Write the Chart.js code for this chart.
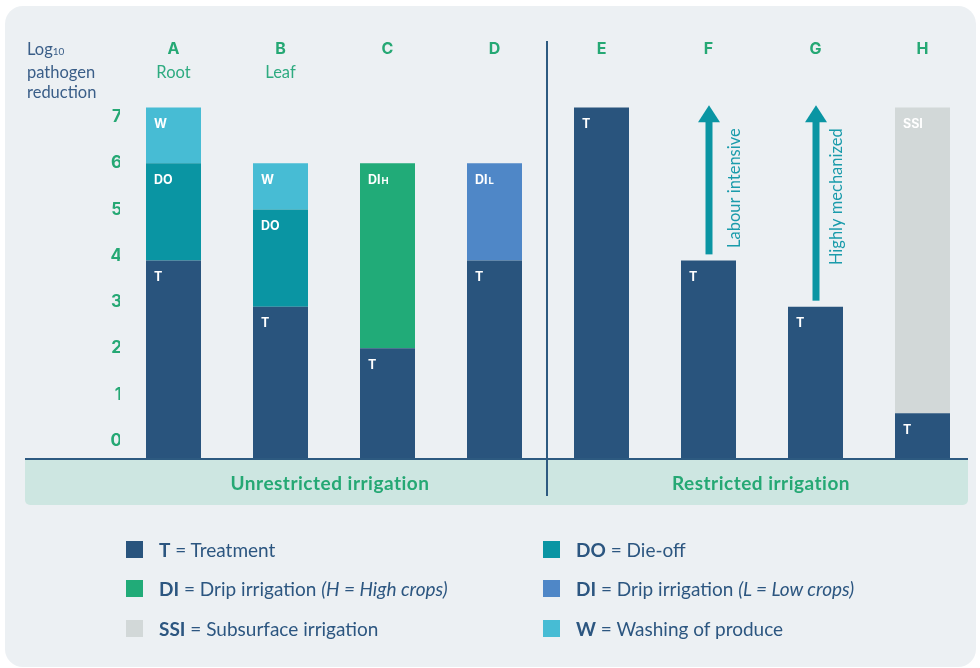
<!DOCTYPE html>
<html>
<head>
<meta charset="utf-8">
<script src="https://cdn.jsdelivr.net/npm/chart.js@4.4.1/dist/chart.umd.min.js"></script>
<style>
html, body { margin: 0; padding: 0; background: #fff; }
#wrap { position: relative; width: 980px; height: 668px; overflow: hidden; font-family: Lato, sans-serif; color: #2c5680; }
#panel { position: absolute; left: 5px; top: 6px; width: 971px; height: 661px; background: #ecf0f3; border-radius: 18px; }
#band { position: absolute; left: 25px; top: 460px; width: 943px; height: 45px; background: #cde6e1; border-radius: 0 0 5px 5px; }
#baseline { position: absolute; left: 25px; top: 458px; width: 943px; height: 2px; background: #2d5a80; }
#divider { position: absolute; left: 546px; top: 41px; width: 2px; height: 455px; background: #2d5a80; }
#chart { position: absolute; left: 0; top: 0; }
.band-label { position: absolute; top: 471px; font-weight: 700; font-size: 19px; letter-spacing: 0.5px; color: #25a874; transform: translateX(-50%); white-space: nowrap; }
#ytitle { position: absolute; left: 27px; top: 39px; font-size: 16.5px; line-height: 20.5px; color: #3a5e88; }
#ytitle sub { font-size: 10px; vertical-align: baseline; }
.leg { position: absolute; height: 17px; white-space: nowrap; font-size: 19px; line-height: 17px; }
.leg i.sw { position: absolute; left: 0; top: 0; width: 17px; height: 17px; }
.leg span { position: absolute; top: 0; }
.leg b { font-weight: 700; }
</style>
</head>
<body>
<div id="wrap">
  <div id="panel"></div>
  <div id="band"></div>
  <canvas id="chart" width="980" height="668"></canvas>
  <div id="baseline"></div>
  <div id="divider"></div>
  <div id="ytitle">Log<sub>10</sub><br>pathogen<br>reduction</div>
  <div class="band-label" style="left:330px">Unrestricted irrigation</div>
  <div class="band-label" style="left:761px">Restricted irrigation</div>
  <div id="legend"></div>
</div>
<script>
'use strict';

// categories and sub labels (top axis)
const categories = ['A', 'B', 'C', 'D', 'E', 'F', 'G', 'H'];
const cropLabels = ['Root', 'Leaf', '', '', '', '', '', ''];

// log10 reduction per measure (stacked)
const treatment = [3.9, 2.9, 2.0, 3.9, 7.2, 3.9, 2.9, 0.6];
const dieOff = [2.1, 2.1, null, null, null, null, null, null];
const dripHigh = [null, null, 4.0, null, null, null, null, null];
const dripLow = [null, null, null, 2.1, null, null, null, null];
const subsurface = [null, null, null, null, null, null, null, 6.6];
const washing = [1.2, 1.0, null, null, null, null, null, null];

const yTicks = [0, 1, 2, 3, 4, 5, 6, 7];
const arrowText = [null, null, null, null, null, 'Labour intensive', 'Highly mechanized', null];
const arrowTop = 7.25;

const GREEN = '#25a874';
const colors = {
  T: '#29547d',
  DO: '#0a95a3',
  DIH: '#21ab78',
  DIL: '#4f87c7',
  SSI: '#d2d8d8',
  W: '#47bcd4',
};

Chart.defaults.font.family = 'Inter, sans-serif';

function makeSet(label, data, color, tag, extra) {
  return Object.assign({
    label: label,
    data: data,
    backgroundColor: color,
    tag: tag,
    barPercentage: 0.514,
    categoryPercentage: 1,
  }, extra || {});
}

const barTags = {
  id: 'barTags',
  afterDatasetsDraw(chart) {
    const ctx = chart.ctx;
    ctx.save();
    ctx.fillStyle = '#ffffff';
    ctx.textBaseline = 'middle';
    ctx.textAlign = 'left';
    chart.data.datasets.forEach((ds, di) => {
      const meta = chart.getDatasetMeta(di);
      meta.data.forEach((el, i) => {
        if (ds.data[i] == null) return;
        let x = el.x - el.width / 2 + 8;
        let y = el.y + 17;
        ctx.font = '700 12.5px Inter, sans-serif';
        ctx.fillText(ds.tag[0], x, y);
        if (ds.tag[1]) {
          x += ctx.measureText(ds.tag[0]).width + 1;
          ctx.font = '700 9.5px Inter, sans-serif';
          ctx.fillText(ds.tag[1], x, y + 1);
        }
      });
    });
    ctx.restore();
  }
};

const arrows = {
  id: 'arrows',
  afterDatasetsDraw(chart) {
    const ctx = chart.ctx;
    const meta = chart.getDatasetMeta(0);
    const yScale = chart.scales.y;
    const gaps = {5: 31, 6: 26};
    ctx.save();
    arrowText.forEach((txt, i) => {
      if (!txt) return;
      const bar = meta.data[i];
      const x = Math.round(bar.x);
      const bottom = bar.y - 6;
      const tip = yScale.getPixelForValue(arrowTop);
      ctx.fillStyle = '#0a95a3';
      ctx.fillRect(x - 3.5, tip + 16, 7, bottom - tip - 16);
      ctx.beginPath();
      ctx.moveTo(x, tip);
      ctx.lineTo(x + 11, tip + 17);
      ctx.lineTo(x - 11, tip + 17);
      ctx.closePath();
      ctx.fill();
      ctx.translate(x + (gaps[i] || 28), tip + 23);
      ctx.rotate(-Math.PI / 2);
      ctx.fillStyle = '#1a9bab';
      ctx.font = '16.5px Lato, sans-serif';
      ctx.textAlign = 'right';
      ctx.textBaseline = 'alphabetic';
      ctx.fillText(txt, 0, 0);
      ctx.setTransform(1, 0, 0, 1, 0, 0);
    });
    ctx.restore();
  }
};

new Chart(document.getElementById('chart'), {
  type: 'bar',
  data: {
    labels: categories,
    datasets: [
      makeSet('T', treatment, colors.T, ['T', ''], {base: -0.39}),
      makeSet('DO', dieOff, colors.DO, ['DO', '']),
      makeSet('DIH', dripHigh, colors.DIH, ['DI', 'H']),
      makeSet('DIL', dripLow, colors.DIL, ['DI', 'L']),
      makeSet('SSI', subsurface, colors.SSI, ['SSI', '']),
      makeSet('W', washing, colors.W, ['W', '']),
    ],
  },
  options: {
    responsive: false,
    animation: false,
    layout: { padding: { left: 80, top: 35, right: 4, bottom: 209 } },
    plugins: { legend: { display: false }, tooltip: { enabled: false } },
    scales: {
      x: {
        position: 'top',
        stacked: true,
        weight: 1,
        grid: { display: false, drawTicks: false },
        border: { display: false },
        ticks: { color: GREEN, font: { size: 16, weight: '700' }, padding: 6 },
        afterFit(s) { s.height = 30; },
      },
      x2: {
        position: 'top',
        type: 'category',
        labels: cropLabels,
        weight: 0,
        grid: { display: false, drawTicks: false },
        border: { display: false },
        ticks: { color: '#2eab80', font: { family: 'Lato, sans-serif', size: 16.5 }, padding: 7 },
        afterFit(s) { s.height = 25; },
      },
      y: {
        stacked: true,
        min: -0.39,
        max: 7.58,
        grid: { display: false, drawTicks: false },
        border: { display: false },
        afterBuildTicks(s) { s.ticks = yTicks.map(v => ({ value: v })); },
        ticks: { color: GREEN, font: { size: 17, weight: '700' }, padding: -2 },
        afterFit(s) { s.width = 40; },
      },
    },
  },
  plugins: [barTags, arrows],
});

// legend
const legendRows = [
  { key: 'T', text: ' = Treatment', note: '', color: colors.T, x: 126, y: 541 },
  { key: 'DI', text: ' = Drip irrigation ', note: '(H = High crops)', color: colors.DIH, x: 126, y: 580 },
  { key: 'SSI', text: ' = Subsurface irrigation', note: '', color: colors.SSI, x: 126, y: 620 },
  { key: 'DO', text: ' = Die-off', note: '', color: colors.DO, x: 543, y: 541 },
  { key: 'DI', text: ' = Drip irrigation ', note: '(L = Low crops)', color: colors.DIL, x: 543, y: 580 },
  { key: 'W', text: ' = Washing of produce', note: '', color: colors.W, x: 543, y: 620 },
];
const legend = document.getElementById('legend');
legendRows.forEach(r => {
  const d = document.createElement('div');
  d.className = 'leg';
  d.style.left = r.x + 'px';
  d.style.top = r.y + 'px';
  d.innerHTML = '<i class="sw" style="background:' + r.color + '"></i>' +
    '<span style="left:33px"><b>' + r.key + '</b>' + r.text + (r.note ? '<i>' + r.note + '</i>' : '') + '</span>';
  legend.appendChild(d);
});
</script>
</body>
</html>
